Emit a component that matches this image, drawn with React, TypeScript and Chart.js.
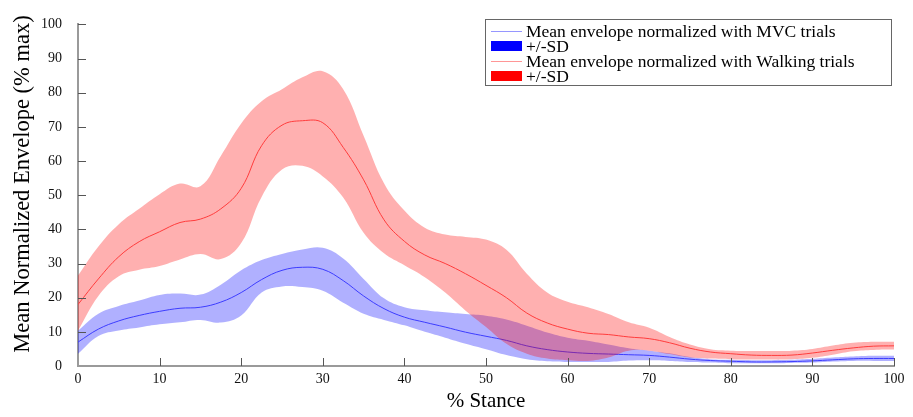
import { useEffect, useRef } from 'react';
import { Chart, registerables } from 'chart.js';

Chart.register(...registerables);

const stance = [0, 2.5, 5, 7.5, 10, 12.5, 15, 17.5, 20, 22.5, 25, 27.5, 30, 32.5, 35, 37.5, 40, 42.5, 45, 47.5, 50, 52.5, 55, 57.5, 60, 62.5, 65, 67.5, 70, 72.5, 75, 77.5, 80, 82.5, 85, 87.5, 90, 92.5, 95, 97.5, 100];

const walkMean = [18, 25.5, 32, 36.4, 39.3, 42, 43, 46, 52, 64.5, 70.5, 71.8, 71.2, 64, 54.5, 42.8, 36.5, 32.5, 30, 27, 23.6, 20, 15.5, 12.6, 10.8, 9.6, 9.2, 8.5, 8, 6.8, 5.2, 4.1, 3.6, 3.2, 3.1, 3.2, 3.8, 4.6, 5.3, 5.8, 5.9];
const walkUpper = [26.5, 35, 41.5, 46, 50.3, 53.4, 52.6, 61.5, 71, 77.5, 81, 84.5, 86.3, 81, 67.4, 53.5, 45.5, 40.5, 38.5, 37.8, 37, 34, 27, 21.5, 18.8, 17.2, 15.2, 12.8, 11.2, 8.5, 6.3, 4.9, 4.5, 4.4, 4.4, 4.5, 5, 6, 6.8, 7.1, 7.1];
const walkLower = [10.3, 20.5, 26.3, 28.2, 29.3, 31.2, 32.8, 31.3, 36, 49.5, 57.5, 58.6, 55.5, 49.3, 39, 33, 29.5, 26, 21.5, 16.2, 11.4, 6.5, 3.6, 2.2, 1.7, 1.5, 2.5, 4.5, 4.5, 3.5, 2.5, 2.2, 2.0, 1.9, 1.9, 2.0, 2.4, 3.3, 4.3, 4.7, 4.8];

const mvcMean = [7, 10.8, 13.2, 14.8, 16, 16.9, 17.2, 18.7, 21.5, 25.3, 28, 28.9, 28.3, 25, 20.5, 16.8, 14.3, 12.8, 11.4, 9.9, 8.7, 7.5, 5.9, 4.8, 4.1, 3.7, 3.5, 3.3, 3.1, 2.6, 2.0, 1.6, 1.4, 1.2, 1.2, 1.3, 1.5, 1.8, 2.1, 2.2, 2.2];
const mvcUpper = [10.3, 15.3, 17.6, 19.2, 20.8, 21.2, 20.9, 23.8, 28, 31, 32.8, 34.1, 34.6, 31.5, 25.5, 19.8, 17.2, 16.3, 15.7, 15.2, 14.7, 13.6, 11.8, 9.8, 8.3, 7.4, 6.3, 5.2, 4.5, 3.7, 2.6, 2.0, 1.8, 1.7, 1.7, 1.8, 2.1, 2.5, 2.8, 3.0, 3.0];
const mvcLower = [3.6, 8.8, 10.4, 11.3, 12.2, 12.8, 13.5, 12.7, 14.8, 21.5, 23.3, 23.1, 22, 18.5, 15.3, 13.5, 11.9, 10, 8.3, 6.5, 4.9, 3.2, 2.0, 1.4, 1.2, 1.2, 1.2, 1.6, 1.7, 1.5, 1.2, 1.0, 0.8, 0.8, 0.8, 0.9, 1.0, 1.3, 1.5, 1.5, 1.5];

const xTickValues = [0, 10, 20, 30, 40, 50, 60, 70, 80, 90, 100];
const yTickValues = [0, 10, 20, 30, 40, 50, 60, 70, 80, 90, 100];

const xTitle = '% Stance';
const yTitle = 'Mean Normalized Envelope (% max)';
const legendLabels = [
  'Mean envelope normalized with MVC trials',
  '+/-SD',
  'Mean envelope normalized with Walking trials',
  '+/-SD',
];

const FONT = "'Liberation Serif', 'Times New Roman', serif";

const pts = (ys: number[]) => stance.map((x, i) => ({ x, y: ys[i] }));

const decorPlugin = {
  id: 'decor',
  afterDraw(chart: any) {
    const ctx = chart.ctx;
    const xs = chart.scales.x;
    const ys = chart.scales.y;
    const area = chart.chartArea;
    ctx.save();
    // inward tick marks
    ctx.strokeStyle = '#555';
    ctx.lineWidth = 1;
    ctx.beginPath();
    yTickValues.forEach((v) => {
      if (v === 0) return;
      const py = Math.round(ys.getPixelForValue(v)) + 0.5;
      ctx.moveTo(area.left, py);
      ctx.lineTo(area.left + 8, py);
    });
    xTickValues.forEach((v) => {
      if (v === 0) return;
      const px = Math.round(xs.getPixelForValue(v)) + 0.5;
      ctx.moveTo(px, area.bottom);
      ctx.lineTo(px, area.bottom - 8);
    });
    ctx.stroke();

    // axis titles
    ctx.fillStyle = '#000';
    ctx.font = `21px ${FONT}`;
    ctx.textAlign = 'center';
    ctx.textBaseline = 'middle';
    ctx.fillText(xTitle, (area.left + area.right) / 2, 401);
    ctx.save();
    ctx.translate(23, 184);
    ctx.rotate(-Math.PI / 2);
    ctx.font = `22.5px ${FONT}`;
    ctx.fillText(yTitle, 0, 0);
    ctx.restore();

    // legend
    const bx = 485.5, by = 19.5, bw = 406, bh = 66;
    ctx.fillStyle = '#fff';
    ctx.fillRect(bx, by, bw, bh);
    ctx.strokeStyle = '#666';
    ctx.lineWidth = 1;
    ctx.strokeRect(bx, by, bw, bh);
    const rows = [31, 46, 61, 76];
    const sx0 = 491, sx1 = 522;
    ctx.strokeStyle = 'rgb(150,150,255)';
    ctx.beginPath();
    ctx.moveTo(sx0, rows[0] + 0.5);
    ctx.lineTo(sx1, rows[0] + 0.5);
    ctx.stroke();
    ctx.fillStyle = 'rgb(0,0,255)';
    ctx.fillRect(sx0, rows[1] - 5, sx1 - sx0, 10);
    ctx.strokeStyle = 'rgb(255,150,150)';
    ctx.beginPath();
    ctx.moveTo(sx0, rows[2] + 0.5);
    ctx.lineTo(sx1, rows[2] + 0.5);
    ctx.stroke();
    ctx.fillStyle = 'rgb(255,0,0)';
    ctx.fillRect(sx0, rows[3] - 5, sx1 - sx0, 10);

    ctx.fillStyle = '#000';
    ctx.font = `17.5px ${FONT}`;
    ctx.textAlign = 'left';
    ctx.textBaseline = 'middle';
    legendLabels.forEach((t, i) => ctx.fillText(t, 526, rows[i] + 1));
    ctx.restore();
  },
};

export default function App() {
  const ref = useRef<HTMLCanvasElement | null>(null);

  useEffect(() => {
    if (!ref.current) return;
    const common = {
      pointRadius: 0,
      pointHoverRadius: 0,
      tension: 0.4,
    };
    const chart = new Chart(ref.current, {
      type: 'line',
      data: {
        datasets: [
          { ...common, label: 'walkMean', data: pts(walkMean), borderColor: 'rgb(255,60,60)', borderWidth: 1, fill: false, order: 0 },
          { ...common, label: 'walkUpper', data: pts(walkUpper), borderWidth: 0, borderColor: 'rgba(0,0,0,0)', backgroundColor: 'rgba(255,0,0,0.31)', fill: 2, order: 1 },
          { ...common, label: 'walkLower', data: pts(walkLower), borderWidth: 0, borderColor: 'rgba(0,0,0,0)', fill: false, order: 1 },
          { ...common, label: 'mvcMean', data: pts(mvcMean), borderColor: 'rgb(60,60,255)', borderWidth: 1, fill: false, order: 2 },
          { ...common, label: 'mvcUpper', data: pts(mvcUpper), borderWidth: 0, borderColor: 'rgba(0,0,0,0)', backgroundColor: 'rgba(0,0,255,0.31)', fill: 5, order: 3 },
          { ...common, label: 'mvcLower', data: pts(mvcLower), borderWidth: 0, borderColor: 'rgba(0,0,0,0)', fill: false, order: 3 },
        ],
      },
      options: {
        responsive: false,
        animation: false,
        devicePixelRatio: 1,
        layout: { padding: { top: 16, right: 19, left: 0, bottom: 0 } },
        plugins: {
          legend: { display: false },
          tooltip: { enabled: false },
          title: { display: false },
        },
        events: [],
        scales: {
          x: {
            type: 'linear',
            min: 0,
            max: 100,
            afterBuildTicks: (s: any) => { s.ticks = xTickValues.map((v) => ({ value: v })); },
            afterFit: (s: any) => { s.height = 51; },
            grid: { display: false, drawTicks: false },
            border: { display: true, color: '#9a9a9a', width: 2 },
            ticks: { color: '#111', font: { family: FONT, size: 14 }, padding: 5, maxRotation: 0 },
          },
          y: {
            type: 'linear',
            min: 0,
            max: 100,
            afterBuildTicks: (s: any) => { s.ticks = yTickValues.map((v) => ({ value: v })); },
            afterFit: (s: any) => { s.width = 78; },
            grid: { display: false, drawTicks: false },
            border: { display: true, color: '#9a9a9a', width: 2 },
            ticks: { color: '#111', font: { family: FONT, size: 14 }, padding: 16 },
          },
        },
      },
      plugins: [decorPlugin],
    });
    return () => chart.destroy();
  }, []);

  return (
    <div style={{ position: 'fixed', left: 0, top: 0, width: 913, height: 417, background: '#fff' }}>
      <canvas ref={ref} width={913} height={417} style={{ display: 'block', width: 913, height: 417 }} />
    </div>
  );
}
